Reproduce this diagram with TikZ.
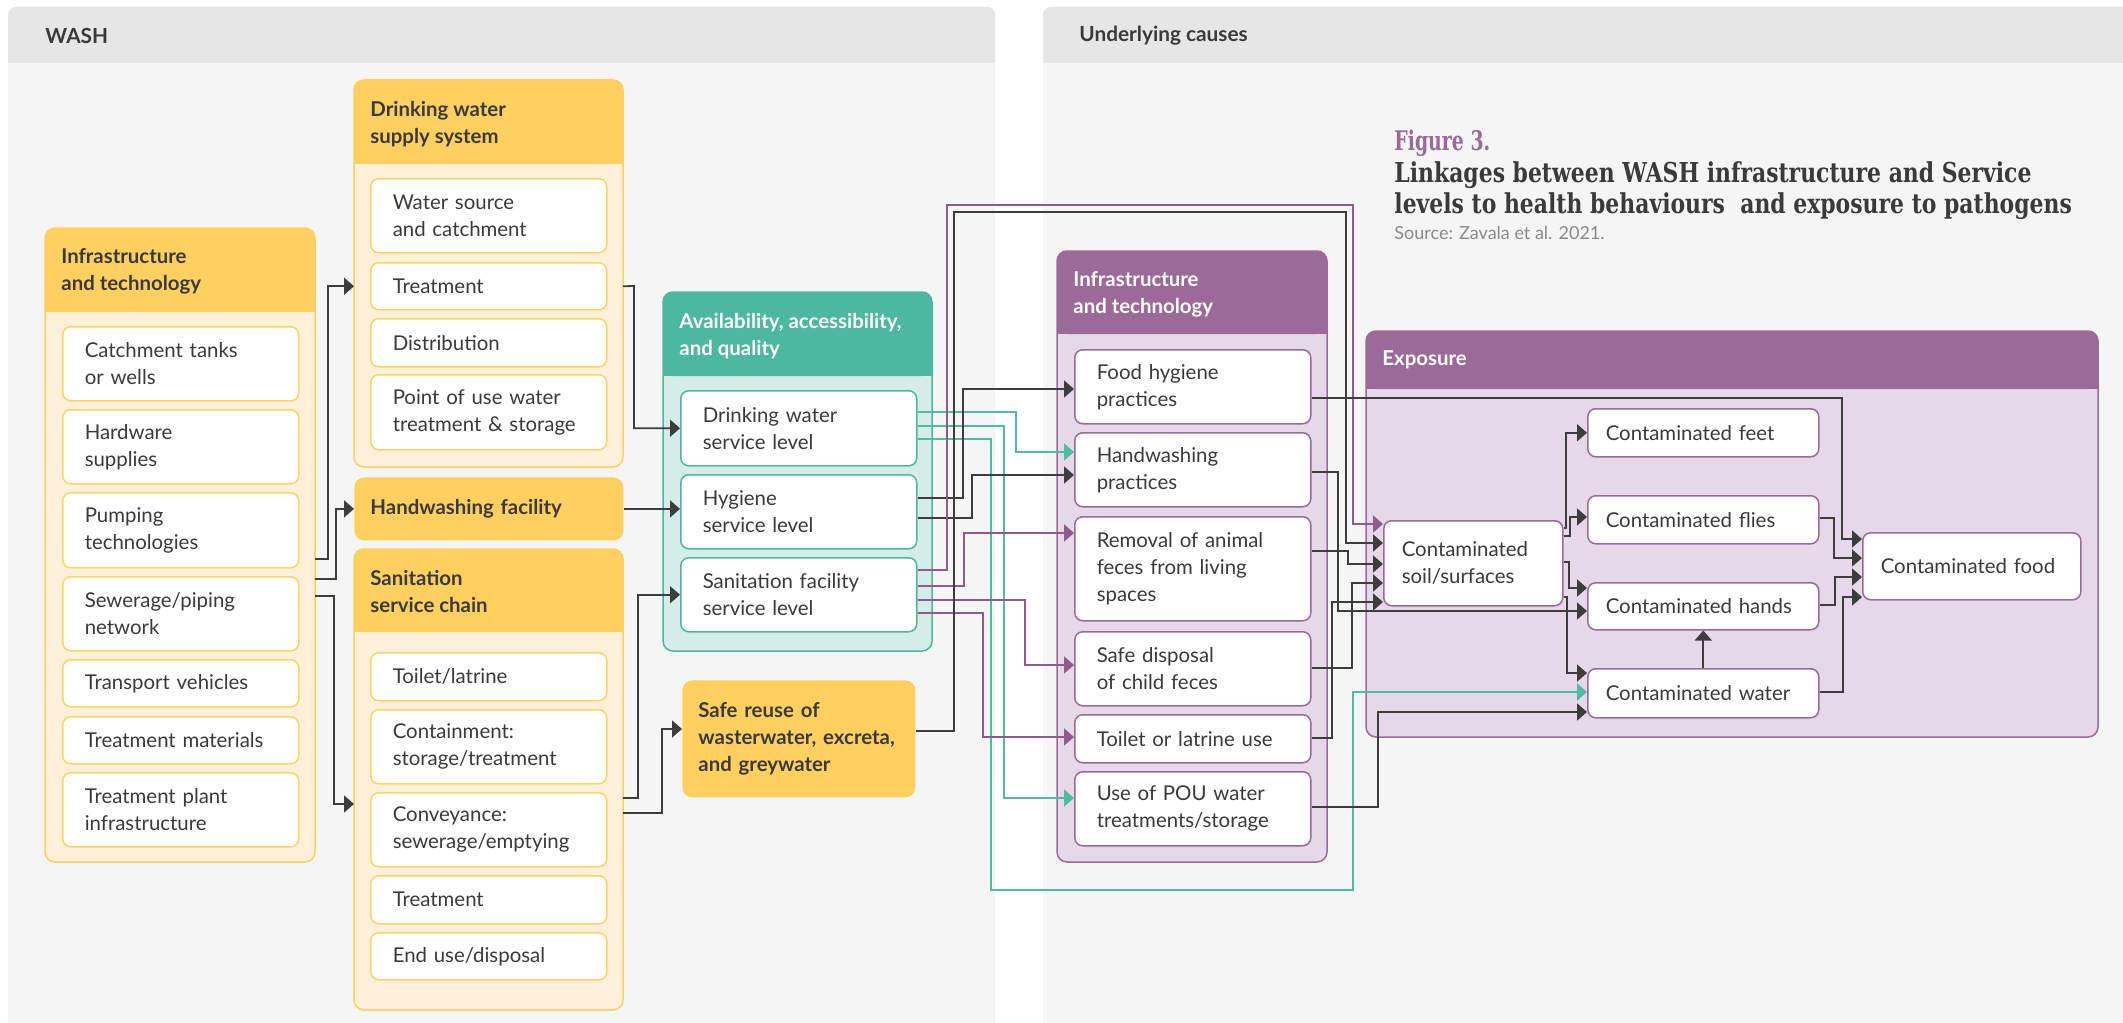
\documentclass[tikz,border=0pt]{standalone}
\usepackage{fontspec}
\setmainfont{Lato}
\newfontfamily\titlef[FakeStretch=0.8]{DejaVu Serif}
\newfontfamily\figf[FakeStretch=0.7]{DejaVu Serif}
\usetikzlibrary{arrows.meta}
\definecolor{pbody}{HTML}{F5F5F5}
\definecolor{phead}{HTML}{E6E6E6}
\definecolor{yhd}{HTML}{FFD05F}
\definecolor{ybd}{HTML}{FFF1D9}
\definecolor{ybr}{HTML}{FFD466}
\definecolor{thd}{HTML}{4DB8A0}
\definecolor{tbd}{HTML}{D4EDE7}
\definecolor{phd}{HTML}{9B6A98}
\definecolor{pbd}{HTML}{E4D8E9}
\definecolor{txt}{HTML}{3A3A3A}
\definecolor{dk}{HTML}{3D3D3D}
\definecolor{tl}{HTML}{4DBCA0}
\definecolor{pu}{HTML}{8F5B8C}
\definecolor{gry}{HTML}{8A8A8A}
\newcommand\bodyf{\fontsize{10.2}{13.5}\selectfont}
\newcommand\subbx[7]{%
  \pgfmathsetmacro\mytw{(#4-#2)*0.5-22}%
  \pgfmathsetmacro\myh{(#5-#3)*0.5}%
  \node[subbox=#6, text width=\mytw pt, minimum height=\myh pt] (#1) at (#2,#3) {#7};}
\newcommand\expbx[6]{%
  \pgfmathsetmacro\mytw{(#4-#2)*0.5-18}%
  \pgfmathsetmacro\myh{(#5-#3)*0.5}%
  \node[subbox=phd, inner xsep=9pt, text width=\mytw pt, minimum height=\myh pt] (#1) at (#2,#3) {#6};}
\newcommand\grp[8]{%
  \pgfmathsetmacro\myw{(#4-#2)*0.5}%
  \pgfmathsetmacro\myh{(#5-#3)*0.5}%
  \node[draw=#7, fill=#8, line width=0.75pt, rounded corners=5pt, inner sep=0pt, outer sep=0pt,
        minimum width=\myw pt, minimum height=\myh pt, anchor=north west] (#1) at (#2,#3) {};
  \fill[#7, rounded corners=5pt] (#2,#3) rectangle (#4,#6);
  \fill[#7] (#2,#6-12) rectangle (#4,#6);}
\begin{document}
\begin{tikzpicture}[x=0.5pt,y=-0.5pt,
  subbox/.style={draw=#1, fill=white, line width=0.75pt, rounded corners=4pt, anchor=north west,
    align=left, inner xsep=11pt, inner ysep=0pt, font=\bodyf, text=txt},
  hdtext/.style={anchor=west, align=left, inner xsep=8pt, inner ysep=0pt, font=\bodyf\bfseries},
  solidy/.style={fill=yhd, rounded corners=5pt, anchor=north west, align=left, inner xsep=8pt,
    inner ysep=0pt, font=\bodyf\bfseries, text=txt},
  ln/.style={line width=0.9pt, draw=#1, -{Triangle[length=5pt,width=8.5pt]}},
  ln/.default=dk]
\useasboundingbox (0,0) rectangle (2123,1022);
\clip (0,0) rectangle (2123,1022);
\fill[white] (0,0) rectangle (2123,1022);
% panels
\fill[pbody, rounded corners=4pt] (8,7) rectangle (995,1040);
\fill[phead, rounded corners=4pt] (8,7) rectangle (995,63);
\fill[phead] (8,50) rectangle (995,63);
\fill[pbody, rounded corners=4pt] (1043,7) rectangle (2150,1040);
\fill[phead, rounded corners=4pt] (1043,7) rectangle (2150,63);
\fill[phead] (1043,50) rectangle (2150,63);
\node[anchor=west, inner sep=0pt, font=\fontsize{10.4}{13.5}\selectfont\bfseries, text=txt] (wash) at (45,36) {WASH};
\node[anchor=west, inner sep=0pt, font=\fontsize{10.4}{13.5}\selectfont\bfseries, text=txt] (uc) at (1079,36) {Underlying causes};
% title
\node[anchor=base west, inner sep=0pt, font=\figf\bfseries\fontsize{13.5}{15}\selectfont, text=phd] (fig) at (1394,150) {Figure 3.};
\node[anchor=base west, inner sep=0pt, font=\titlef\bfseries\fontsize{13.7}{15}\selectfont, text=txt] (t1) at (1394,182) {Linkages between WASH infrastructure and Service};
\node[anchor=base west, inner sep=0pt, font=\titlef\bfseries\fontsize{13.7}{15}\selectfont, text=txt] (t2) at (1394,213) {levels to health behaviours\ \ and exposure to pathogens};
\node[anchor=base west, inner sep=0pt, font=\fontsize{9}{10}\selectfont, text=gry] (src) at (1394,239) {Source: Zavala et al. 2021.};
% ---- groups
\grp{infra}{45}{228}{315}{862}{312}{yhd}{ybd}
\node[hdtext, text=txt] (infrah) at (45,271) {Infrastructure\\and technology};
\grp{dws}{354}{80}{623}{467}{164}{yhd}{ybd}
\node[hdtext, text=txt] (dwsh) at (354,124) {Drinking water\\supply system};
\grp{san}{354}{549}{623}{1010}{632}{yhd}{ybd}
\node[hdtext, text=txt] (sanh) at (354,591) {Sanitation\\service chain};
\grp{aaq}{663}{292}{932}{651}{376}{thd}{tbd}
\node[hdtext, text=white] (aaqh) at (663,336) {Availability, accessibility,\\and quality};
\grp{beh}{1057}{251}{1327}{862}{334}{phd}{pbd}
\node[hdtext, text=white] (behh) at (1057,294) {Infrastructure\\and technology};
\grp{expo}{1366}{331}{2098}{737}{389}{phd}{pbd}
\node[hdtext, text=white] (expoh) at (1366,360) {Exposure};
\node[solidy, text width=118.5pt, minimum height=31.5pt] (hwf) at (354,477) {Handwashing facility};
\node[solidy, text width=100.5pt, minimum height=58.5pt] (reuse) at (682,680) {Safe reuse of\\wasterwater, excreta,\\and greywater};
% ---- sub boxes
\subbx{cat}{62}{326}{298}{400}{ybr}{Catchment tanks\\or wells}
\subbx{hard}{62}{409}{298}{483}{ybr}{Hardware\\supplies}
\subbx{pump}{62}{492}{298}{567}{ybr}{Pumping\\technologies}
\subbx{sew}{62}{576}{298}{650}{ybr}{Sewerage/piping\\network}
\subbx{trans}{62}{659}{298}{706}{ybr}{Transport vehicles}
\subbx{tmat}{62}{716}{298}{763}{ybr}{Treatment materials}
\subbx{tplant}{62}{772}{298}{846}{ybr}{Treatment plant\\infrastructure}
\subbx{wsrc}{370}{178}{606}{252}{ybr}{Water source\\and catchment}
\subbx{dtreat}{370}{262}{606}{309}{ybr}{Treatment}
\subbx{dist}{370}{318}{606}{366}{ybr}{Distribution}
\subbx{dpou}{370}{374}{606}{449}{ybr}{Point of use water\\treatment \& storage}
\subbx{toil}{370}{652}{606}{700}{ybr}{Toilet/latrine}
\subbx{cont}{370}{709}{606}{783}{ybr}{Containment:\\storage/treatment}
\subbx{conv}{370}{792}{606}{866}{ybr}{Conveyance:\\sewerage/emptying}
\subbx{strt}{370}{875}{606}{923}{ybr}{Treatment}
\subbx{endu}{370}{932}{606}{979}{ybr}{End use/disposal}
\subbx{dwsl}{680}{390}{916}{465}{thd}{Drinking water\\service level}
\subbx{hyg}{680}{474}{916}{548}{thd}{Hygiene\\service level}
\subbx{sfl}{680}{557}{916}{631}{thd}{Sanitation facility\\service level}
\subbx{food}{1074}{349}{1310}{423}{phd}{Food hygiene\\practices}
\subbx{hwp}{1074}{432}{1310}{506}{phd}{Handwashing\\practices}
\subbx{remov}{1074}{516}{1310}{620}{phd}{Removal of animal\\feces from living\\spaces}
\subbx{safe}{1074}{631}{1310}{705}{phd}{Safe disposal\\of child feces}
\subbx{toilet}{1074}{714}{1310}{762}{phd}{Toilet or latrine use}
\subbx{pou}{1074}{771}{1310}{845}{phd}{Use of POU water\\treatments/storage}
\expbx{soil}{1383}{520}{1562}{605}{Contaminated\\soil/surfaces}
\expbx{feet}{1587}{408}{1818}{456}{Contaminated feet}
\expbx{flies}{1587}{495}{1818}{543}{Contaminated flies}
\expbx{chands}{1587}{582}{1818}{629}{Contaminated hands}
\expbx{cwater}{1587}{668}{1818}{717}{Contaminated water}
\expbx{cfood}{1862}{532}{2080}{599}{Contaminated food}
% ---- connectors WASH
\draw[ln] (infra.east |- 0,559) -- (328,559) |- (dws.west |- dtreat.west);
\draw[ln] (infra.east |- 0,579) -- (336,579) |- (hwf.west);
\draw[ln] (infra.east |- 0,596) -- (334,596) |- (san.west |- 0,804);
\draw[ln] (dws.east |- dtreat.east) -- (634,286) |- (dwsl.west);
\draw[ln] (hwf.east) -- (hwf.east -| hyg.west);
\draw[ln] (san.east |- 0,798) -- (638,798) |- (sfl.west);
\draw[ln] (san.east |- 0,813) -- (662,813) |- (reuse.west |- 0,729);
% ---- service levels to behaviours
\draw[ln=tl] (dwsl.east |- 0,412) -- (1016,412) |- (hwp.west |- 0,452);
\draw[ln=tl] (dwsl.east |- 0,426) -- (1004,426) |- (pou.west |- 0,798);
\draw[ln=tl] (dwsl.east |- 0,439) -- (991,439) -- (991,890) -- (1353,890) |- (cwater.west |- 0,692);
\draw[ln] (hyg.east |- 0,498) -- (963,498) |- (food.west |- 0,389);
\draw[ln] (hyg.east |- 0,518) -- (972,518) |- (hwp.west |- 0,475);
\draw[ln=pu] (sfl.east |- 0,570) -- (947,570) -- (947,205) -- (1353,205) |- (soil.west |- 0,524);
\draw[ln=pu] (sfl.east |- 0,586) -- (964,586) |- (remov.west |- 0,533);
\draw[ln=pu] (sfl.east |- 0,600) -- (1025,600) |- (safe.west |- 0,665);
\draw[ln=pu] (sfl.east |- 0,613) -- (983,613) |- (toilet.west |- 0,737);
\draw[ln] (reuse.east |- 0,731) -- (954,731) -- (954,212) -- (1346,212) |- (soil.west |- 0,543);
% ---- behaviours to exposure
\draw[ln] (food.east |- 0,398) -- (1842,398) |- (cfood.west |- 0,539);
\draw[ln] (hwp.east |- 0,472) -- (1338,472) |- (chands.west |- 0,611);
\draw[ln] (remov.east |- 0,551) -- (1348,551) |- (soil.west |- 0,564);
\draw[ln] (safe.east |- 0,668) -- (1352,668) |- (soil.west |- 0,583);
\draw[ln] (toilet.east |- 0,738) -- (1332,738) |- (soil.west |- 0,602);
\draw[ln] (pou.east |- 0,807) -- (1378,807) |- (cwater.west |- 0,712);
% ---- exposure internal
\draw[ln] (soil.east |- 0,528) -- (1566,528) |- (feet.west);
\draw[ln] (soil.east |- 0,536) -- (1570,536) |- (flies.west |- 0,517);
\draw[ln] (soil.east |- 0,562) -- (1569,562) |- (chands.west |- 0,588);
\draw[ln] (soil.east |- 0,597) -- (1567,597) |- (cwater.west |- 0,673);
\draw[ln] (flies.east |- 0,518) -- (1834,518) |- (cfood.west |- 0,558);
\draw[ln] (chands.east |- 0,605) -- (1835,605) |- (cfood.west |- 0,577);
\draw[ln] (cwater.east |- 0,692) -- (1843,692) |- (cfood.west |- 0,597);
\draw[ln] (cwater.north) -- (chands.south);
\end{tikzpicture}
\end{document}
